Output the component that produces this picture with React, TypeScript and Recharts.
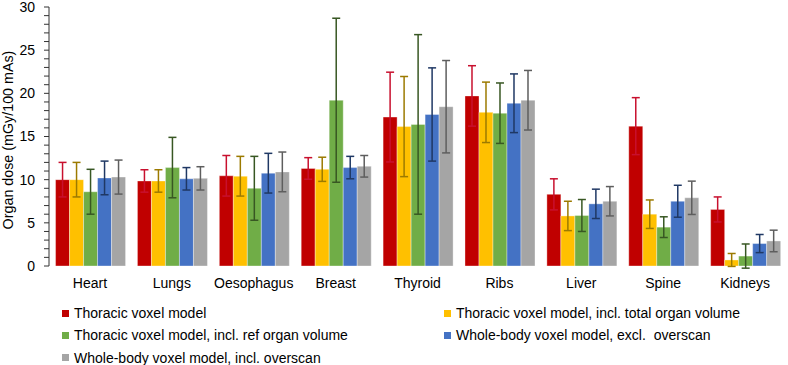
import React from 'react';
import { BarChart, Bar, XAxis, YAxis, ErrorBar, Legend } from 'recharts';

const categories = ['Heart', 'Lungs', 'Oesophagus', 'Breast', 'Thyroid', 'Ribs', 'Liver', 'Spine', 'Kidneys'];

const thoracic = [10.0, 9.85, 10.45, 11.3, 17.25, 19.7, 8.3, 16.2, 6.55];
const thoracicErr = [2.0, 1.3, 2.35, 1.25, 5.2, 3.5, 1.8, 3.3, 1.45];
const totalVol = [10.0, 9.85, 10.4, 11.2, 16.15, 17.8, 5.8, 6.0, 0.7];
const totalVolErr = [2.0, 1.3, 2.3, 1.4, 5.8, 3.5, 1.7, 1.65, 0.75];
const refVol = [8.6, 11.4, 9.0, 19.2, 16.4, 17.7, 5.85, 4.5, 1.15];
const refVolErr = [2.6, 3.5, 3.7, 9.5, 10.4, 3.5, 1.85, 1.2, 1.4];
const wbExcl = [10.2, 10.1, 10.75, 11.4, 17.55, 18.85, 7.2, 7.5, 2.6];
const wbExclErr = [1.95, 1.3, 2.3, 1.3, 5.4, 3.4, 1.7, 1.85, 1.05];
const wbIncl = [10.3, 10.15, 10.9, 11.55, 18.45, 19.2, 7.5, 7.9, 2.9];
const wbInclErr = [1.97, 1.35, 2.3, 1.25, 5.35, 3.45, 1.7, 1.93, 1.25];

const seriesNames = [
  'Thoracic voxel model',
  'Thoracic voxel model, incl. total organ volume',
  'Thoracic voxel model, incl. ref organ volume',
  'Whole-body voxel model, excl.  overscan',
  'Whole-body voxel model, incl. overscan',
];
const seriesColors = ['#C00000', '#FFC000', '#70AD47', '#4472C4', '#A5A5A5'];
const errorColors = ['#C8102E', '#9C7A00', '#385723', '#1F3864', '#5E5E5E'];
const seriesValues = [thoracic, totalVol, refVol, wbExcl, wbIncl];
const seriesErrors = [thoracicErr, totalVolErr, refVolErr, wbExclErr, wbInclErr];

const yTicks = [0, 1, 2, 3, 4, 5, 6, 7, 8, 9, 10, 11, 12, 13, 14, 15, 16, 17, 18, 19, 20, 21, 22, 23, 24, 25, 26, 27, 28, 29, 30];
const categoryBoundaries = [0, 1, 2, 3, 4, 5, 6, 7, 8, 9];
const yTitle = 'Organ dose (mGy/100 mAs)';

const FONT = '"Liberation Sans", Arial, sans-serif';

const data = categories.map((name, i) => {
  const row: any = { name };
  seriesValues.forEach((vals, s) => {
    row['v' + s] = vals[i];
    row['e' + s] = seriesErrors[s][i];
  });
  return row;
});

const renderYTick = (props: any) => {
  const { x, y, payload } = props;
  if (payload.value % 5 !== 0) return <g />;
  return (
    <text x={x} y={y} dy="0.355em" textAnchor="end" fontSize={14} fill="#000" fontFamily={FONT}>
      {payload.value}
    </text>
  );
};

const renderYLabel = () => {
  const cx = 13;
  const cy = 140;
  return (
    <text x={cx} y={cy} textAnchor="middle" fontSize={14.3} fill="#000" fontFamily={FONT} transform={`rotate(-90, ${cx}, ${cy})`}>
      {yTitle}
    </text>
  );
};

const renderLegend = () => (
  <div
    style={{
      height: 70,
      boxSizing: 'border-box',
      paddingTop: 11.1,
      paddingLeft: 62,
      display: 'grid',
      gridTemplateColumns: '382px auto',
      rowGap: 8.3,
      fontFamily: FONT,
      fontSize: 14,
      lineHeight: '14px',
      color: '#000',
    }}
  >
    {seriesNames.map((n, i) => (
      <div key={n} style={{ display: 'flex', alignItems: 'center', whiteSpace: 'pre', height: 14 }}>
        <span style={{ display: 'inline-block', width: 7, height: 7, background: seriesColors[i], marginRight: 5 }} />
        <span>{n}</span>
      </div>
    ))}
  </div>
);

export default function App() {
  return (
    <div style={{ position: 'absolute', left: 0, top: 0, width: 788, height: 365, background: '#fff' }}>
      <BarChart
        width={788}
        height={365}
        data={data}
        margin={{ top: 7, right: 2, left: 0, bottom: 0 }}
        barCategoryGap="8%"
        barGap={0}
      >
        <XAxis
          xAxisId="bound"
          type="number"
          domain={[0, 9]}
          ticks={categoryBoundaries}
          allowDataOverflow
          tick={false}
          tickSize={5}
          height={0}
          axisLine={{ stroke: '#333' }}
          tickLine={{ stroke: '#333' }}
        />
        <XAxis
          xAxisId="cat"
          dataKey="name"
          interval={0}
          tickLine={false}
          axisLine={false}
          tickSize={0}
          tickMargin={12}
          height={29}
          tick={{ fontSize: 14, fill: '#000', fontFamily: FONT }}
        />
        <YAxis
          domain={[0, 30]}
          ticks={yTicks}
          interval={0}
          allowDataOverflow
          width={49}
          tickSize={5}
          tickMargin={9}
          tick={renderYTick}
          axisLine={{ stroke: '#333' }}
          tickLine={{ stroke: '#333' }}
          label={renderYLabel}
        />
        <Legend
          content={renderLegend}
          wrapperStyle={{ position: 'absolute', left: 0, bottom: 0, width: 788, height: 70 }}
          verticalAlign="bottom"
        />
        {seriesNames.map((n, s) => (
          <Bar
            key={n}
            xAxisId="cat"
            dataKey={'v' + s}
            name={n}
            fill={seriesColors[s]}
            stroke="rgba(255,255,255,0.35)"
            strokeWidth={1}
            isAnimationActive={false}
          >
            <ErrorBar dataKey={'e' + s} direction="y" width={4} strokeWidth={1.5} stroke={errorColors[s]} isAnimationActive={false} />
          </Bar>
        ))}
      </BarChart>
    </div>
  );
}
